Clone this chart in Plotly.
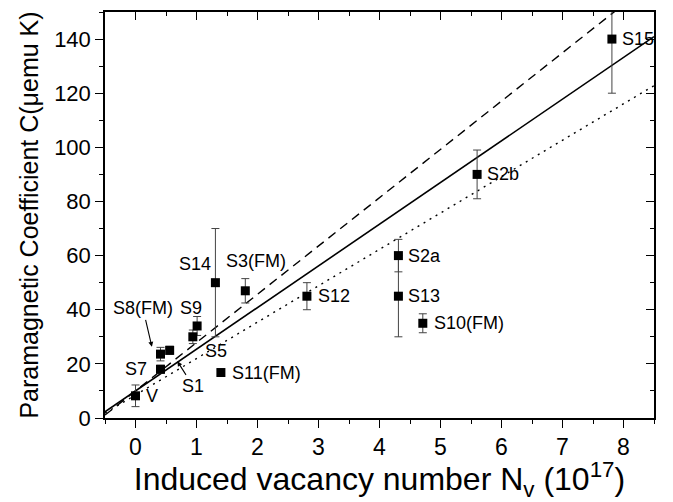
import plotly.graph_objects as go

# ---- data ----
names = ["V", "S7", "S8(FM)", "S1", "S5", "S9", "S14", "S11(FM)", "S3(FM)",
         "S12", "S2a", "S13", "S10(FM)", "S2b", "S15"]
nv = [0.0, 0.41, 0.41, 0.56, 0.94, 1.01, 1.31, 1.40, 1.80,
      2.81, 4.31, 4.31, 4.71, 5.60, 7.81]
coef = [8.2, 18.0, 23.6, 25.0, 30.0, 34.0, 50.0, 16.8, 47.0,
        45.0, 60.0, 45.0, 35.0, 90.0, 140.0]
err = [4.0, 1.5, 2.5, 1.5, 2.5, 3.5, 20.0, 1.0, 4.5,
       5.0, 6.0, 15.0, 3.5, 9.0, 20.0]

fit_x = [-0.5, 8.5]
solid_y = [2.3, 140.9]
dashed_y = [1.1, 161.7]
dotted_y = [1.8, 122.8]

x_ticks = [0, 1, 2, 3, 4, 5, 6, 7, 8]
x_ticktext = ["0", "1", "2", "3", "4", "5", "6", "7", "8"]
y_ticks = [0, 20, 40, 60, 80, 100, 120, 140]
y_ticktext = ["0", "20", "40", "60", "80", "100", "120", "140"]

x_title = "Induced vacancy number N<sub>v</sub> (10<sup>17</sup>)"
y_title = "Paramagnetic Coefficient C(μemu K)"

# ---- style ----
FONT = "Arial, Liberation Sans, sans-serif"
LBL = 18
# label placement (anchor, xshift px, yshift px)
label_style = {
    "V": ("left", 8, 0),
    "S7": ("right", -12, 0),
    "S5": ("center", 23, -14),
    "S9": ("center", -6, 18),
    "S14": ("right", -2, 19),
    "S11(FM)": ("left", 9, 0),
    "S3(FM)": ("center", 11, 30),
    "S12": ("left", 9, 0),
    "S2a": ("left", 8, 0),
    "S13": ("left", 8, 0),
    "S10(FM)": ("left", 9, 0),
    "S2b": ("left", 8, 0),
    "S15": ("left", 8, 0),
}
arrow_style = {
    "S8(FM)": (-8.6, 7.3, -9, -38.4),
    "S1": (7.7, -11, 16, 25),
}

fig = go.Figure()

fig.add_trace(go.Scatter(x=fit_x, y=dashed_y, mode="lines",
                         line=dict(color="black", width=1.4, dash="9px,6px"),
                         showlegend=False, hoverinfo="skip"))
fig.add_trace(go.Scatter(x=fit_x, y=solid_y, mode="lines",
                         line=dict(color="black", width=1.6),
                         showlegend=False, hoverinfo="skip"))
fig.add_trace(go.Scatter(x=fit_x, y=dotted_y, mode="lines",
                         line=dict(color="black", width=1.4, dash="2px,5px"),
                         showlegend=False, hoverinfo="skip"))

fig.add_trace(go.Scatter(
    x=nv, y=coef, mode="markers",
    marker=dict(symbol="square", size=9, color="black", line=dict(width=0)),
    error_y=dict(type="data", array=err, visible=True, color="#444444",
                 thickness=1, width=4),
    showlegend=False, hoverinfo="skip"))

# invisible trace to bind mirrored axes
fig.add_trace(go.Scatter(x=fit_x, y=solid_y, xaxis="x2", yaxis="y2",
                         mode="lines", line=dict(width=0, color="rgba(0,0,0,0)"),
                         showlegend=False, hoverinfo="skip"))

annotations = []
for n, xv, yv in zip(names, nv, coef):
    if n in label_style:
        anc, xs, ys = label_style[n]
        annotations.append(dict(x=xv, y=yv, xref="x", yref="y", text=n,
                                showarrow=False, xanchor=anc, yanchor="middle",
                                xshift=xs, yshift=ys,
                                font=dict(family=FONT, size=LBL, color="black")))
    elif n in arrow_style:
        xs, ys, ax, ay = arrow_style[n]
        annotations.append(dict(x=xv, y=yv, xref="x", yref="y", text=n,
                                showarrow=True, arrowhead=2, arrowsize=0.9,
                                arrowwidth=1.1, arrowcolor="black",
                                ax=ax, ay=ay, axref="pixel", ayref="pixel",
                                xshift=xs, yshift=ys,
                                font=dict(family=FONT, size=LBL, color="black")))

axis_common = dict(showline=True, linecolor="black", linewidth=1.5,
                   showgrid=False, zeroline=False, mirror=False)

fig.update_layout(
    width=673, height=502,
    margin=dict(l=104.5, r=18.5, t=12, b=83.5, autoexpand=False),
    paper_bgcolor="white", plot_bgcolor="white",
    font=dict(family=FONT, color="black"),
    annotations=annotations,
    xaxis=dict(range=[-0.5, 8.5], tickmode="array", tickvals=x_ticks,
               ticktext=x_ticktext, ticks="outside", ticklen=8, tickwidth=1.3,
               tickcolor="black",
               tickfont=dict(family=FONT, size=23),
               minor=dict(tickmode="linear", tick0=0, dtick=0.5, ticks="outside",
                          ticklen=4, tickwidth=1.3, tickcolor="black"),
               title=dict(text=x_title, font=dict(family=FONT, size=32), standoff=2),
               automargin=False, **axis_common),
    xaxis2=dict(range=[-0.5, 8.5], overlaying="x", side="top", anchor="y",
                tickmode="array", tickvals=x_ticks, showticklabels=False,
                ticks="inside", ticklen=8, tickwidth=1.3, tickcolor="black",
                minor=dict(tickmode="linear", tick0=0, dtick=0.5, ticks="inside",
                           ticklen=4, tickwidth=1.3, tickcolor="black"),
                **axis_common),
    yaxis=dict(range=[0, 150], tickmode="array", tickvals=y_ticks,
               ticktext=y_ticktext, ticks="outside", ticklen=8, tickwidth=1.3,
               tickcolor="black",
               tickfont=dict(family=FONT, size=22),
               minor=dict(tickmode="linear", tick0=0, dtick=10, ticks="outside",
                          ticklen=4, tickwidth=1.3, tickcolor="black"),
               title=dict(text=y_title, font=dict(family=FONT, size=25), standoff=8),
               automargin=False, **axis_common),
    yaxis2=dict(range=[0, 150], overlaying="y", side="right", anchor="x",
                tickmode="array", tickvals=y_ticks, showticklabels=False,
                ticks="inside", ticklen=8, tickwidth=1.3, tickcolor="black",
                minor=dict(tickmode="linear", tick0=0, dtick=10, ticks="inside",
                           ticklen=4, tickwidth=1.3, tickcolor="black"),
                **axis_common),
)

fig.write_html("out.html")
